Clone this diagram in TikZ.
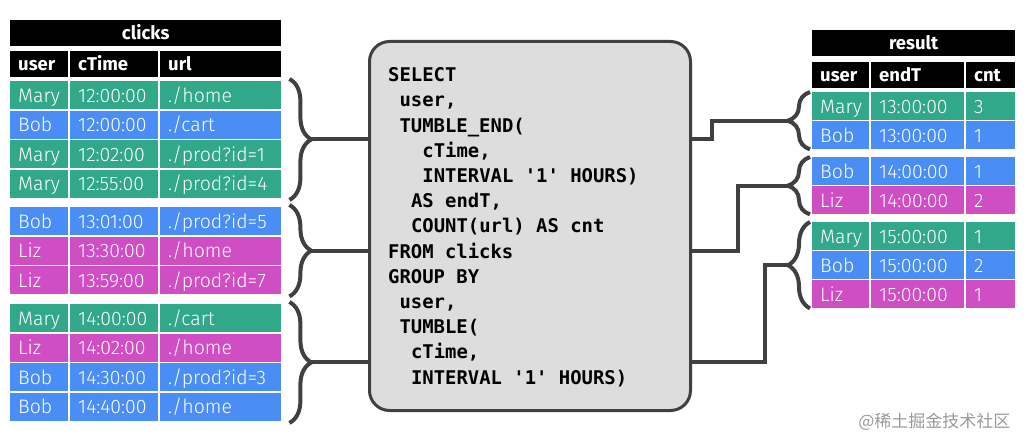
\documentclass[tikz,border=0pt]{standalone}
\usepackage{fontspec}
\setmainfont{Fira Sans}
\setmonofont{DejaVu Sans Mono}
\newfontfamily\cellfont{Fira Sans Light}
\newfontfamily\cjkfont{Noto Sans CJK SC}
\usetikzlibrary{decorations.pathreplacing,calc}
\definecolor{grn}{RGB}{50,168,138}
\definecolor{blu}{RGB}{74,142,245}
\definecolor{mag}{RGB}{208,78,196}
\definecolor{brk}{RGB}{64,64,64}
\definecolor{boxfill}{RGB}{221,221,221}
\tikzset{
  cell/.style={anchor=north west, inner xsep=8pt, inner ysep=0pt, minimum height=28pt,
    text=white, align=left, text height=14pt, text depth=0pt,
    font=\cellfont\fontsize{19.5}{19.5}\selectfont},
  head/.style={cell, fill=black, minimum height=26pt, text height=12pt,
    font=\bfseries\fontsize{18.5}{18.5}\selectfont},
  ucol/.style={text width=42pt}, tcol/.style={text width=72pt}, lcol/.style={text width=105pt},
  rucol/.style={text width=41pt}, rtcol/.style={text width=77pt}, rncol/.style={text width=33pt},
  grp/.style={decorate, decoration={brace, amplitude=22pt}, draw=brk, line width=4pt},
  link/.style={draw=brk, line width=4pt},
  sqlbox/.style={draw=brk, line width=3pt, fill=boxfill, rounded corners=20pt,
    minimum width=321pt, minimum height=369pt},
  code/.style={anchor=base west, inner sep=0pt, font=\ttfamily\bfseries\fontsize{18.9}{25}\selectfont},
}
\begin{document}
\begin{tikzpicture}[x=1pt, y=-1pt]
  \useasboundingbox (0,0) rectangle (1031,446);
  % clicks table
  \node[head, text width=255pt, align=center] (ctitle) at (10,20) {clicks};
  \node[head, ucol] (hu) at (10,51) {user};
  \node[head, tcol] (ht) at (70,51) {cTime};
  \node[head, lcol] (hl) at (160,51) {url};
  \foreach \y/\c/\u/\t/\l [count=\i] in {
      81/grn/Mary/12:00:00/{./home},
      110.5/blu/Bob/12:00:00/{./cart},
      140/grn/Mary/12:02:00/{./prod?id=1},
      169.5/grn/Mary/12:55:00/{./prod?id=4},
      207/blu/Bob/13:01:00/{./prod?id=5},
      236.5/mag/Liz/13:30:00/{./home},
      266/mag/Liz/13:59:00/{./prod?id=7},
      304/grn/Mary/14:00:00/{./cart},
      333.5/mag/Liz/14:02:00/{./home},
      363/blu/Bob/14:30:00/{./prod?id=3},
      392.5/blu/Bob/14:40:00/{./home}}
  {
    \node[cell, ucol, fill=\c] (cu\i) at (10,\y) {\u};
    \node[cell, tcol, fill=\c] (ct\i) at (70,\y) {\t};
    \node[cell, lcol, fill=\c] (cl\i) at (160,\y) {\l};
  }
  % result table
  \node[head, text width=187pt, align=center] (rtitle) at (812,30) {result};
  \node[head, rucol] (ru0) at (812,62) {user};
  \node[head, rtcol] (rt0) at (871,62) {endT};
  \node[head, rncol] (rn0) at (966,62) {cnt};
  \foreach \y/\c/\u/\t/\n [count=\i] in {
      92/grn/Mary/13:00:00/3,
      121/blu/Bob/13:00:00/1,
      157/blu/Bob/14:00:00/1,
      186/mag/Liz/14:00:00/2,
      222/grn/Mary/15:00:00/1,
      251/blu/Bob/15:00:00/2,
      280/mag/Liz/15:00:00/1}
  {
    \node[cell, rucol, fill=\c] (ru\i) at (812,\y) {\u};
    \node[cell, rtcol, fill=\c] (rt\i) at (871,\y) {\t};
    \node[cell, rncol, fill=\c] (rn\i) at (966,\y) {\n};
  }
  % braces
  \draw[grp] ([xshift=8pt,yshift=2pt]cl1.north east) -- ([xshift=8pt,yshift=-2pt]cl4.south east);
  \draw[grp] ([xshift=8pt,yshift=2pt]cl5.north east) -- ([xshift=8pt,yshift=-2pt]cl7.south east);
  \draw[grp] ([xshift=8pt,yshift=2pt]cl8.north east) -- ([xshift=8pt,yshift=-2pt]cl11.south east);
  \draw[grp] ([xshift=-2pt]ru2.south west) -- ([xshift=-2pt]ru1.north west);
  \draw[grp] ([xshift=-2pt]ru4.south west) -- ([xshift=-2pt]ru3.north west);
  \draw[grp] ([xshift=-2pt]ru7.south west) -- ([xshift=-2pt]ru5.north west);
  \coordinate (g1) at ($(cl1.north east)!.5!(cl4.south east)+(30,0)$);
  \coordinate (g2) at ($(cl5.north east)!.5!(cl7.south east)+(30,0)$);
  \coordinate (g3) at ($(cl8.north east)!.5!(cl11.south east)+(30,0)$);
  \coordinate (h1) at ($(ru1.north west)!.5!(ru2.south west)+(-24,0)$);
  \coordinate (h2) at ($(ru3.north west)!.5!(ru4.south west)+(-24,0)$);
  \coordinate (h3) at ($(ru5.north west)!.5!(ru7.south west)+(-24,0)$);
  % query box
  \node[sqlbox] (sql) at (530,226) {};
  \draw[link] (g1) -- (g1 -| sql.west);
  \draw[link] (g2) -- (g2 -| sql.west);
  \draw[link] (g3) -- (g3 -| sql.west);
  \draw[link] (g1 -| sql.east) -- ++(20,0) |- (h1);
  \draw[link] (g2 -| sql.east) -- ++(46,0) |- (h2);
  \draw[link] (g3 -| sql.east) -- ++(73,0) |- (h3);
  \foreach \n/\s [count=\i] in {0/SELECT, 1/{user,}, 1/TUMBLE\_END(, 3/{cTime,},
      3/INTERVAL '1' HOURS), 2/{AS endT,}, 2/COUNT(url) AS cnt, 0/FROM clicks,
      0/GROUP BY, 1/{user,}, 1/TUMBLE(, 2/{cTime,}, 2/INTERVAL '1' HOURS)}
    \node[code] (q\i) at (388+11.4*\n, 56.5+25.2*\i) {\s};
  \node[anchor=east, text=black!40, font=\cjkfont\fontsize{17}{17}\selectfont] (mark) at (1014,422) {@稀土掘金技术社区};
\end{tikzpicture}
\end{document}
